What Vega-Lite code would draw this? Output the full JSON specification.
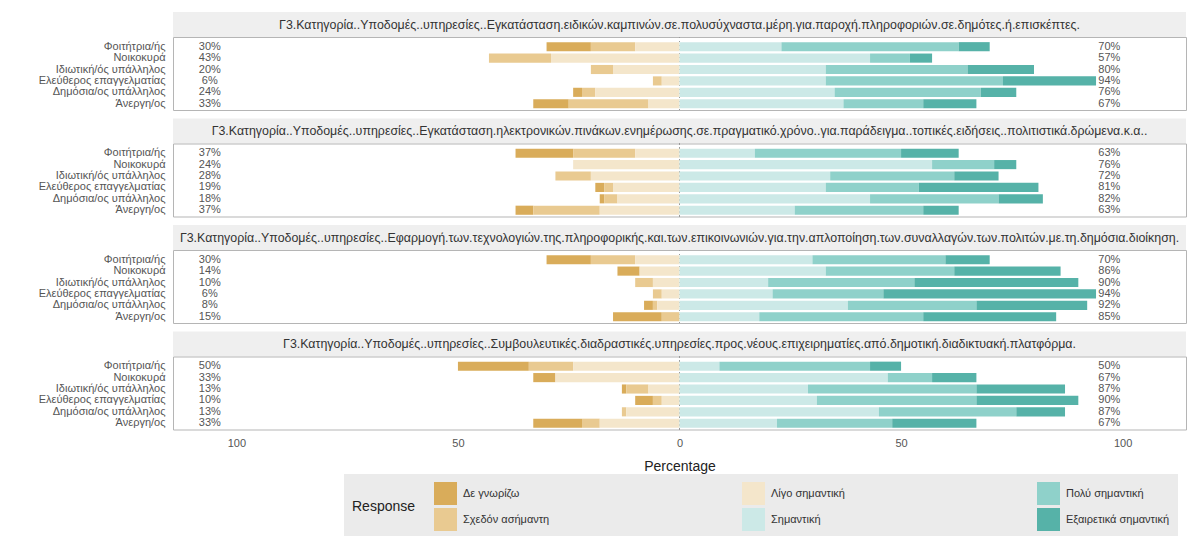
{
"$schema": "https://vega.github.io/schema/vega-lite/v6.json",
"padding": {"left": 37, "top": 12, "right": 0, "bottom": 0},
"background": "white",
"spacing": 7.5,
"config": {"view": {"stroke": "#b5b5b5"}, "font": "Liberation Sans"},
"datasets": {
"likert": [
{"p":1,"g":"Φοιτήτρια/ής","left":30,"right":70,"Δε γνωρίζω":10,"Σχεδόν ασήμαντη":10,"Λίγο σημαντική":10,"Σημαντική":23,"Πολύ σημαντική":40,"Εξαιρετικά σημαντική":7},
{"p":1,"g":"Νοικοκυρά","left":43,"right":57,"Δε γνωρίζω":0,"Σχεδόν ασήμαντη":14,"Λίγο σημαντική":29,"Σημαντική":43,"Πολύ σημαντική":9,"Εξαιρετικά σημαντική":5},
{"p":1,"g":"Ιδιωτική/ός υπάλληλος","left":20,"right":80,"Δε γνωρίζω":0,"Σχεδόν ασήμαντη":5,"Λίγο σημαντική":15,"Σημαντική":33,"Πολύ σημαντική":32,"Εξαιρετικά σημαντική":15},
{"p":1,"g":"Ελεύθερος επαγγελματίας","left":6,"right":94,"Δε γνωρίζω":0,"Σχεδόν ασήμαντη":2,"Λίγο σημαντική":4,"Σημαντική":33,"Πολύ σημαντική":40,"Εξαιρετικά σημαντική":21},
{"p":1,"g":"Δημόσια/ος υπάλληλος","left":24,"right":76,"Δε γνωρίζω":2,"Σχεδόν ασήμαντη":3,"Λίγο σημαντική":19,"Σημαντική":35,"Πολύ σημαντική":33,"Εξαιρετικά σημαντική":8},
{"p":1,"g":"Άνεργη/ος","left":33,"right":67,"Δε γνωρίζω":8,"Σχεδόν ασήμαντη":18,"Λίγο σημαντική":7,"Σημαντική":37,"Πολύ σημαντική":18,"Εξαιρετικά σημαντική":12},
{"p":2,"g":"Φοιτήτρια/ής","left":37,"right":63,"Δε γνωρίζω":13,"Σχεδόν ασήμαντη":14,"Λίγο σημαντική":10,"Σημαντική":17,"Πολύ σημαντική":33,"Εξαιρετικά σημαντική":13},
{"p":2,"g":"Νοικοκυρά","left":24,"right":76,"Δε γνωρίζω":0,"Σχεδόν ασήμαντη":0,"Λίγο σημαντική":24,"Σημαντική":57,"Πολύ σημαντική":14,"Εξαιρετικά σημαντική":5},
{"p":2,"g":"Ιδιωτική/ός υπάλληλος","left":28,"right":72,"Δε γνωρίζω":0,"Σχεδόν ασήμαντη":8,"Λίγο σημαντική":20,"Σημαντική":34,"Πολύ σημαντική":28,"Εξαιρετικά σημαντική":10},
{"p":2,"g":"Ελεύθερος επαγγελματίας","left":19,"right":81,"Δε γνωρίζω":2,"Σχεδόν ασήμαντη":2,"Λίγο σημαντική":15,"Σημαντική":33,"Πολύ σημαντική":21,"Εξαιρετικά σημαντική":27},
{"p":2,"g":"Δημόσια/ος υπάλληλος","left":18,"right":82,"Δε γνωρίζω":1,"Σχεδόν ασήμαντη":3,"Λίγο σημαντική":14,"Σημαντική":43,"Πολύ σημαντική":29,"Εξαιρετικά σημαντική":10},
{"p":2,"g":"Άνεργη/ος","left":37,"right":63,"Δε γνωρίζω":4,"Σχεδόν ασήμαντη":15,"Λίγο σημαντική":18,"Σημαντική":26,"Πολύ σημαντική":29,"Εξαιρετικά σημαντική":8},
{"p":3,"g":"Φοιτήτρια/ής","left":30,"right":70,"Δε γνωρίζω":10,"Σχεδόν ασήμαντη":10,"Λίγο σημαντική":10,"Σημαντική":30,"Πολύ σημαντική":30,"Εξαιρετικά σημαντική":10},
{"p":3,"g":"Νοικοκυρά","left":14,"right":86,"Δε γνωρίζω":5,"Σχεδόν ασήμαντη":0,"Λίγο σημαντική":9,"Σημαντική":33,"Πολύ σημαντική":29,"Εξαιρετικά σημαντική":24},
{"p":3,"g":"Ιδιωτική/ός υπάλληλος","left":10,"right":90,"Δε γνωρίζω":0,"Σχεδόν ασήμαντη":4,"Λίγο σημαντική":6,"Σημαντική":20,"Πολύ σημαντική":33,"Εξαιρετικά σημαντική":37},
{"p":3,"g":"Ελεύθερος επαγγελματίας","left":6,"right":94,"Δε γνωρίζω":0,"Σχεδόν ασήμαντη":2,"Λίγο σημαντική":4,"Σημαντική":21,"Πολύ σημαντική":25,"Εξαιρετικά σημαντική":48},
{"p":3,"g":"Δημόσια/ος υπάλληλος","left":8,"right":92,"Δε γνωρίζω":2,"Σχεδόν ασήμαντη":1,"Λίγο σημαντική":5,"Σημαντική":38,"Πολύ σημαντική":29,"Εξαιρετικά σημαντική":25},
{"p":3,"g":"Άνεργη/ος","left":15,"right":85,"Δε γνωρίζω":11,"Σχεδόν ασήμαντη":4,"Λίγο σημαντική":0,"Σημαντική":18,"Πολύ σημαντική":37,"Εξαιρετικά σημαντική":30},
{"p":4,"g":"Φοιτήτρια/ής","left":50,"right":50,"Δε γνωρίζω":16,"Σχεδόν ασήμαντη":10,"Λίγο σημαντική":24,"Σημαντική":9,"Πολύ σημαντική":34,"Εξαιρετικά σημαντική":7},
{"p":4,"g":"Νοικοκυρά","left":33,"right":67,"Δε γνωρίζω":5,"Σχεδόν ασήμαντη":0,"Λίγο σημαντική":28,"Σημαντική":47,"Πολύ σημαντική":10,"Εξαιρετικά σημαντική":10},
{"p":4,"g":"Ιδιωτική/ός υπάλληλος","left":13,"right":87,"Δε γνωρίζω":1,"Σχεδόν ασήμαντη":5,"Λίγο σημαντική":7,"Σημαντική":29,"Πολύ σημαντική":38,"Εξαιρετικά σημαντική":20},
{"p":4,"g":"Ελεύθερος επαγγελματίας","left":10,"right":90,"Δε γνωρίζω":4,"Σχεδόν ασήμαντη":2,"Λίγο σημαντική":4,"Σημαντική":31,"Πολύ σημαντική":36,"Εξαιρετικά σημαντική":23},
{"p":4,"g":"Δημόσια/ος υπάλληλος","left":13,"right":87,"Δε γνωρίζω":0,"Σχεδόν ασήμαντη":1,"Λίγο σημαντική":12,"Σημαντική":45,"Πολύ σημαντική":31,"Εξαιρετικά σημαντική":11},
{"p":4,"g":"Άνεργη/ος","left":33,"right":67,"Δε γνωρίζω":11,"Σχεδόν ασήμαντη":4,"Λίγο σημαντική":18,"Σημαντική":22,"Πολύ σημαντική":26,"Εξαιρετικά σημαντική":19}
]
},
"vconcat": [
{"spacing": 0, "bounds": "flush", "vconcat": [
 {"width": 1013, "height": 25, "data": {"values": [{"t": "Γ3.Κατηγορία..Υποδομές..υπηρεσίες..Εγκατάσταση.ειδικών.καμπινών.σε.πολυσύχναστα.μέρη.για.παροχή.πληροφοριών.σε.δημότες.ή.επισκέπτες."}]},
  "view": {"fill": "#efefef", "stroke": null},
  "mark": {"type": "text", "clip": true, "fontSize": 12.4, "color": "#333333", "baseline": "middle"},
  "encoding": {"x": {"datum": 0, "type": "quantitative", "scale": {"domain": [-114.3, 114.3], "nice": false}, "axis": null}, "text": {"field": "t"}}},
 {"width": 1013, "height": 73, "data": {"name": "likert"}, "transform": [{"filter": "datum.p == 1"}],
  "layer": [
   {"mark": {"type": "rule", "color": "#9a9a9a", "strokeDash": [1, 3]}, "encoding": {"x": {"datum": 0, "type": "quantitative", "scale": {"domain": [-114.3, 114.3], "nice": false}, "axis": null}}},
   {"transform": [{"fold": ["Δε γνωρίζω","Σχεδόν ασήμαντη","Λίγο σημαντική","Σημαντική","Πολύ σημαντική","Εξαιρετικά σημαντική"], "as": ["response", "pct"]},
     {"calculate": "indexof(['Λίγο σημαντική','Σχεδόν ασήμαντη','Δε γνωρίζω'], datum.response) >= 0 ? -datum.pct : datum.pct", "as": "val"},
     {"calculate": "indexof(['Λίγο σημαντική','Σημαντική','Σχεδόν ασήμαντη','Πολύ σημαντική','Δε γνωρίζω','Εξαιρετικά σημαντική'], datum.response)", "as": "ord"}],
    "mark": {"type": "bar"},
    "encoding": {
     "x": {"field": "val", "type": "quantitative", "stack": "zero", "scale": {"domain": [-114.3, 114.3], "nice": false}, "axis": null},
     "y": {"field": "g", "type": "nominal", "sort": ["Φοιτήτρια/ής","Νοικοκυρά","Ιδιωτική/ός υπάλληλος","Ελεύθερος επαγγελματίας","Δημόσια/ος υπάλληλος","Άνεργη/ος"], "title": null, "scale": {"paddingInner": 0.2, "paddingOuter": 0.3, "align": 0.75}, "axis": {"ticks": false, "domain": false, "labelFontSize": 11, "labelColor": "#555555", "labelPadding": 8, "labelFont": "Liberation Sans Narrow, Liberation Sans"}},
     "color": {"field": "response", "type": "nominal", "scale": {"domain": ["Δε γνωρίζω","Λίγο σημαντική","Πολύ σημαντική","Σχεδόν ασήμαντη","Σημαντική","Εξαιρετικά σημαντική"], "range": ["#d9ac5a","#f4e6cb","#8fd1ca","#e9ca91","#cce9e7","#56b2a8"]},
      "legend": {"orient": "none", "legendX": 171, "legendY": 462, "padding": 8, "fillColor": "#ebebeb", "direction": "horizontal", "columns": 3, "columnPadding": 192, "rowPadding": 3, "symbolType": "square", "symbolSize": 529, "symbolStrokeWidth": 0, "symbolOpacity": 1, "labelFontSize": 11, "labelColor": "#333333", "labelOffset": 6, "title": "Response", "titleOrient": "left", "titleFontSize": 14, "titleFontWeight": "normal", "titleColor": "#222222", "titleAnchor": "middle", "titleBaseline": "middle", "titlePadding": 18}},
     "order": {"field": "ord", "type": "quantitative"}}},
   {"transform": [{"calculate": "datum.left + '%'", "as": "lt"}], "mark": {"type": "text", "fontSize": 11, "color": "#555555", "align": "center"},
    "encoding": {"x": {"datum": -106, "type": "quantitative"}, "y": {"field": "g", "type": "nominal", "sort": ["Φοιτήτρια/ής","Νοικοκυρά","Ιδιωτική/ός υπάλληλος","Ελεύθερος επαγγελματίας","Δημόσια/ος υπάλληλος","Άνεργη/ος"]}, "text": {"field": "lt"}}},
   {"transform": [{"calculate": "datum.right + '%'", "as": "rt"}], "mark": {"type": "text", "fontSize": 11, "color": "#555555", "align": "center"},
    "encoding": {"x": {"datum": 97, "type": "quantitative"}, "y": {"field": "g", "type": "nominal", "sort": ["Φοιτήτρια/ής","Νοικοκυρά","Ιδιωτική/ός υπάλληλος","Ελεύθερος επαγγελματίας","Δημόσια/ος υπάλληλος","Άνεργη/ος"]}, "text": {"field": "rt"}}}
  ]}
]},
{"spacing": 0, "bounds": "flush", "vconcat": [
 {"width": 1013, "height": 25, "data": {"values": [{"t": "Γ3.Κατηγορία..Υποδομές..υπηρεσίες..Εγκατάσταση.ηλεκτρονικών.πινάκων.ενημέρωσης.σε.πραγματικό.χρόνο..για.παράδειγμα..τοπικές.ειδήσεις..πολιτιστικά.δρώμενα.κ.α.."}]},
  "view": {"fill": "#efefef", "stroke": null},
  "mark": {"type": "text", "clip": true, "fontSize": 12.4, "color": "#333333", "baseline": "middle"},
  "encoding": {"x": {"datum": 0, "type": "quantitative", "scale": {"domain": [-114.3, 114.3], "nice": false}, "axis": null}, "text": {"field": "t"}}},
 {"width": 1013, "height": 73, "data": {"name": "likert"}, "transform": [{"filter": "datum.p == 2"}],
  "layer": [
   {"mark": {"type": "rule", "color": "#9a9a9a", "strokeDash": [1, 3]}, "encoding": {"x": {"datum": 0, "type": "quantitative", "scale": {"domain": [-114.3, 114.3], "nice": false}, "axis": null}}},
   {"transform": [{"fold": ["Δε γνωρίζω","Σχεδόν ασήμαντη","Λίγο σημαντική","Σημαντική","Πολύ σημαντική","Εξαιρετικά σημαντική"], "as": ["response", "pct"]},
     {"calculate": "indexof(['Λίγο σημαντική','Σχεδόν ασήμαντη','Δε γνωρίζω'], datum.response) >= 0 ? -datum.pct : datum.pct", "as": "val"},
     {"calculate": "indexof(['Λίγο σημαντική','Σημαντική','Σχεδόν ασήμαντη','Πολύ σημαντική','Δε γνωρίζω','Εξαιρετικά σημαντική'], datum.response)", "as": "ord"}],
    "mark": {"type": "bar"},
    "encoding": {
     "x": {"field": "val", "type": "quantitative", "stack": "zero", "scale": {"domain": [-114.3, 114.3], "nice": false}, "axis": null},
     "y": {"field": "g", "type": "nominal", "sort": ["Φοιτήτρια/ής","Νοικοκυρά","Ιδιωτική/ός υπάλληλος","Ελεύθερος επαγγελματίας","Δημόσια/ος υπάλληλος","Άνεργη/ος"], "title": null, "scale": {"paddingInner": 0.2, "paddingOuter": 0.3, "align": 0.75}, "axis": {"ticks": false, "domain": false, "labelFontSize": 11, "labelColor": "#555555", "labelPadding": 8, "labelFont": "Liberation Sans Narrow, Liberation Sans"}},
     "color": {"field": "response", "type": "nominal", "scale": {"domain": ["Δε γνωρίζω","Λίγο σημαντική","Πολύ σημαντική","Σχεδόν ασήμαντη","Σημαντική","Εξαιρετικά σημαντική"], "range": ["#d9ac5a","#f4e6cb","#8fd1ca","#e9ca91","#cce9e7","#56b2a8"]},
      "legend": {"orient": "none", "legendX": 171, "legendY": 462, "padding": 8, "fillColor": "#ebebeb", "direction": "horizontal", "columns": 3, "columnPadding": 192, "rowPadding": 3, "symbolType": "square", "symbolSize": 529, "symbolStrokeWidth": 0, "symbolOpacity": 1, "labelFontSize": 11, "labelColor": "#333333", "labelOffset": 6, "title": "Response", "titleOrient": "left", "titleFontSize": 14, "titleFontWeight": "normal", "titleColor": "#222222", "titleAnchor": "middle", "titleBaseline": "middle", "titlePadding": 18}},
     "order": {"field": "ord", "type": "quantitative"}}},
   {"transform": [{"calculate": "datum.left + '%'", "as": "lt"}], "mark": {"type": "text", "fontSize": 11, "color": "#555555", "align": "center"},
    "encoding": {"x": {"datum": -106, "type": "quantitative"}, "y": {"field": "g", "type": "nominal", "sort": ["Φοιτήτρια/ής","Νοικοκυρά","Ιδιωτική/ός υπάλληλος","Ελεύθερος επαγγελματίας","Δημόσια/ος υπάλληλος","Άνεργη/ος"]}, "text": {"field": "lt"}}},
   {"transform": [{"calculate": "datum.right + '%'", "as": "rt"}], "mark": {"type": "text", "fontSize": 11, "color": "#555555", "align": "center"},
    "encoding": {"x": {"datum": 97, "type": "quantitative"}, "y": {"field": "g", "type": "nominal", "sort": ["Φοιτήτρια/ής","Νοικοκυρά","Ιδιωτική/ός υπάλληλος","Ελεύθερος επαγγελματίας","Δημόσια/ος υπάλληλος","Άνεργη/ος"]}, "text": {"field": "rt"}}}
  ]}
]},
{"spacing": 0, "bounds": "flush", "vconcat": [
 {"width": 1013, "height": 25, "data": {"values": [{"t": "Γ3.Κατηγορία..Υποδομές..υπηρεσίες..Εφαρμογή.των.τεχνολογιών.της.πληροφορικής.και.των.επικοινωνιών.για.την.απλοποίηση.των.συναλλαγών.των.πολιτών.με.τη.δημόσια.διοίκηση."}]},
  "view": {"fill": "#efefef", "stroke": null},
  "mark": {"type": "text", "clip": true, "fontSize": 12.4, "color": "#333333", "baseline": "middle"},
  "encoding": {"x": {"datum": 0, "type": "quantitative", "scale": {"domain": [-114.3, 114.3], "nice": false}, "axis": null}, "text": {"field": "t"}}},
 {"width": 1013, "height": 73, "data": {"name": "likert"}, "transform": [{"filter": "datum.p == 3"}],
  "layer": [
   {"mark": {"type": "rule", "color": "#9a9a9a", "strokeDash": [1, 3]}, "encoding": {"x": {"datum": 0, "type": "quantitative", "scale": {"domain": [-114.3, 114.3], "nice": false}, "axis": null}}},
   {"transform": [{"fold": ["Δε γνωρίζω","Σχεδόν ασήμαντη","Λίγο σημαντική","Σημαντική","Πολύ σημαντική","Εξαιρετικά σημαντική"], "as": ["response", "pct"]},
     {"calculate": "indexof(['Λίγο σημαντική','Σχεδόν ασήμαντη','Δε γνωρίζω'], datum.response) >= 0 ? -datum.pct : datum.pct", "as": "val"},
     {"calculate": "indexof(['Λίγο σημαντική','Σημαντική','Σχεδόν ασήμαντη','Πολύ σημαντική','Δε γνωρίζω','Εξαιρετικά σημαντική'], datum.response)", "as": "ord"}],
    "mark": {"type": "bar"},
    "encoding": {
     "x": {"field": "val", "type": "quantitative", "stack": "zero", "scale": {"domain": [-114.3, 114.3], "nice": false}, "axis": null},
     "y": {"field": "g", "type": "nominal", "sort": ["Φοιτήτρια/ής","Νοικοκυρά","Ιδιωτική/ός υπάλληλος","Ελεύθερος επαγγελματίας","Δημόσια/ος υπάλληλος","Άνεργη/ος"], "title": null, "scale": {"paddingInner": 0.2, "paddingOuter": 0.3, "align": 0.75}, "axis": {"ticks": false, "domain": false, "labelFontSize": 11, "labelColor": "#555555", "labelPadding": 8, "labelFont": "Liberation Sans Narrow, Liberation Sans"}},
     "color": {"field": "response", "type": "nominal", "scale": {"domain": ["Δε γνωρίζω","Λίγο σημαντική","Πολύ σημαντική","Σχεδόν ασήμαντη","Σημαντική","Εξαιρετικά σημαντική"], "range": ["#d9ac5a","#f4e6cb","#8fd1ca","#e9ca91","#cce9e7","#56b2a8"]},
      "legend": {"orient": "none", "legendX": 171, "legendY": 462, "padding": 8, "fillColor": "#ebebeb", "direction": "horizontal", "columns": 3, "columnPadding": 192, "rowPadding": 3, "symbolType": "square", "symbolSize": 529, "symbolStrokeWidth": 0, "symbolOpacity": 1, "labelFontSize": 11, "labelColor": "#333333", "labelOffset": 6, "title": "Response", "titleOrient": "left", "titleFontSize": 14, "titleFontWeight": "normal", "titleColor": "#222222", "titleAnchor": "middle", "titleBaseline": "middle", "titlePadding": 18}},
     "order": {"field": "ord", "type": "quantitative"}}},
   {"transform": [{"calculate": "datum.left + '%'", "as": "lt"}], "mark": {"type": "text", "fontSize": 11, "color": "#555555", "align": "center"},
    "encoding": {"x": {"datum": -106, "type": "quantitative"}, "y": {"field": "g", "type": "nominal", "sort": ["Φοιτήτρια/ής","Νοικοκυρά","Ιδιωτική/ός υπάλληλος","Ελεύθερος επαγγελματίας","Δημόσια/ος υπάλληλος","Άνεργη/ος"]}, "text": {"field": "lt"}}},
   {"transform": [{"calculate": "datum.right + '%'", "as": "rt"}], "mark": {"type": "text", "fontSize": 11, "color": "#555555", "align": "center"},
    "encoding": {"x": {"datum": 97, "type": "quantitative"}, "y": {"field": "g", "type": "nominal", "sort": ["Φοιτήτρια/ής","Νοικοκυρά","Ιδιωτική/ός υπάλληλος","Ελεύθερος επαγγελματίας","Δημόσια/ος υπάλληλος","Άνεργη/ος"]}, "text": {"field": "rt"}}}
  ]}
]},
{"spacing": 0, "bounds": "flush", "vconcat": [
 {"width": 1013, "height": 25, "data": {"values": [{"t": "Γ3.Κατηγορία..Υποδομές..υπηρεσίες..Συμβουλευτικές.διαδραστικές.υπηρεσίες.προς.νέους.επιχειρηματίες.από.δημοτική.διαδικτυακή.πλατφόρμα."}]},
  "view": {"fill": "#efefef", "stroke": null},
  "mark": {"type": "text", "clip": true, "fontSize": 12.4, "color": "#333333", "baseline": "middle"},
  "encoding": {"x": {"datum": 0, "type": "quantitative", "scale": {"domain": [-114.3, 114.3], "nice": false}, "axis": null}, "text": {"field": "t"}}},
 {"width": 1013, "height": 73, "data": {"name": "likert"}, "transform": [{"filter": "datum.p == 4"}],
  "layer": [
   {"mark": {"type": "rule", "color": "#9a9a9a", "strokeDash": [1, 3]}, "encoding": {"x": {"datum": 0, "type": "quantitative", "scale": {"domain": [-114.3, 114.3], "nice": false}}}},
   {"transform": [{"fold": ["Δε γνωρίζω","Σχεδόν ασήμαντη","Λίγο σημαντική","Σημαντική","Πολύ σημαντική","Εξαιρετικά σημαντική"], "as": ["response", "pct"]},
     {"calculate": "indexof(['Λίγο σημαντική','Σχεδόν ασήμαντη','Δε γνωρίζω'], datum.response) >= 0 ? -datum.pct : datum.pct", "as": "val"},
     {"calculate": "indexof(['Λίγο σημαντική','Σημαντική','Σχεδόν ασήμαντη','Πολύ σημαντική','Δε γνωρίζω','Εξαιρετικά σημαντική'], datum.response)", "as": "ord"}],
    "mark": {"type": "bar"},
    "encoding": {
     "x": {"field": "val", "type": "quantitative", "stack": "zero", "scale": {"domain": [-114.3, 114.3], "nice": false}, "axis": {"values": [-100, -50, 0, 50, 100], "labelExpr": "abs(datum.value)", "ticks": false, "domain": false, "grid": false, "labelFontSize": 11, "labelColor": "#555555", "labelPadding": 8, "title": "Percentage", "titleFontSize": 14, "titleFontWeight": "normal", "titleColor": "#222222", "titlePadding": 11}},
     "y": {"field": "g", "type": "nominal", "sort": ["Φοιτήτρια/ής","Νοικοκυρά","Ιδιωτική/ός υπάλληλος","Ελεύθερος επαγγελματίας","Δημόσια/ος υπάλληλος","Άνεργη/ος"], "title": null, "scale": {"paddingInner": 0.2, "paddingOuter": 0.3, "align": 0.75}, "axis": {"ticks": false, "domain": false, "labelFontSize": 11, "labelColor": "#555555", "labelPadding": 8, "labelFont": "Liberation Sans Narrow, Liberation Sans"}},
     "color": {"field": "response", "type": "nominal", "scale": {"domain": ["Δε γνωρίζω","Λίγο σημαντική","Πολύ σημαντική","Σχεδόν ασήμαντη","Σημαντική","Εξαιρετικά σημαντική"], "range": ["#d9ac5a","#f4e6cb","#8fd1ca","#e9ca91","#cce9e7","#56b2a8"]},
      "legend": {"orient": "none", "legendX": 171, "legendY": 462, "padding": 8, "fillColor": "#ebebeb", "direction": "horizontal", "columns": 3, "columnPadding": 192, "rowPadding": 3, "symbolType": "square", "symbolSize": 529, "symbolStrokeWidth": 0, "symbolOpacity": 1, "labelFontSize": 11, "labelColor": "#333333", "labelOffset": 6, "title": "Response", "titleOrient": "left", "titleFontSize": 14, "titleFontWeight": "normal", "titleColor": "#222222", "titleAnchor": "middle", "titleBaseline": "middle", "titlePadding": 18}},
     "order": {"field": "ord", "type": "quantitative"}}},
   {"transform": [{"calculate": "datum.left + '%'", "as": "lt"}], "mark": {"type": "text", "fontSize": 11, "color": "#555555", "align": "center"},
    "encoding": {"x": {"datum": -106, "type": "quantitative"}, "y": {"field": "g", "type": "nominal", "sort": ["Φοιτήτρια/ής","Νοικοκυρά","Ιδιωτική/ός υπάλληλος","Ελεύθερος επαγγελματίας","Δημόσια/ος υπάλληλος","Άνεργη/ος"]}, "text": {"field": "lt"}}},
   {"transform": [{"calculate": "datum.right + '%'", "as": "rt"}], "mark": {"type": "text", "fontSize": 11, "color": "#555555", "align": "center"},
    "encoding": {"x": {"datum": 97, "type": "quantitative"}, "y": {"field": "g", "type": "nominal", "sort": ["Φοιτήτρια/ής","Νοικοκυρά","Ιδιωτική/ός υπάλληλος","Ελεύθερος επαγγελματίας","Δημόσια/ος υπάλληλος","Άνεργη/ος"]}, "text": {"field": "rt"}}}
  ]}
]}
]
}
